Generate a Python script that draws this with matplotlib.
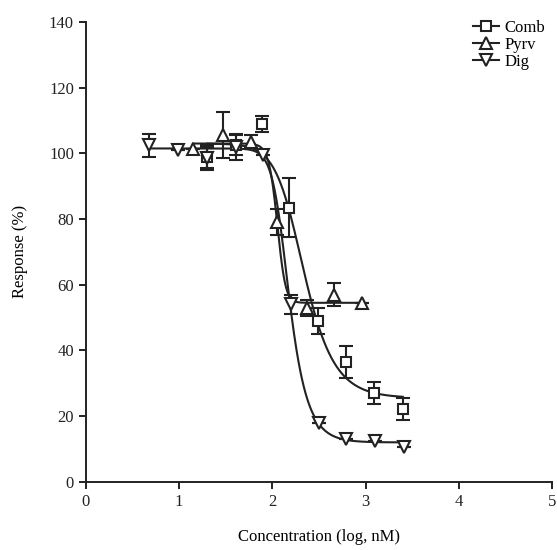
import numpy as np
import matplotlib.pyplot as plt

plt.rcParams['font.family'] = ['Liberation Serif', 'DejaVu Serif']

# measured points (log nM, % response, error)
comb_x = [1.30, 1.61, 1.89, 2.18, 2.49, 2.79, 3.09, 3.40]
comb_y = [99.0, 102.5, 109.0, 83.5, 49.0, 36.5, 27.0, 22.2]
comb_err = [3.5, 3.0, 2.5, 9.0, 4.0, 5.0, 3.3, 3.4]

pyrv_x = [1.15, 1.47, 1.77, 2.05, 2.37, 2.66, 2.96]
pyrv_y = [101.3, 105.5, 103.5, 79.0, 53.0, 57.0, 54.5]
pyrv_err = [0.0, 7.0, 2.0, 4.0, 2.5, 3.5, 0.0]

dig_x = [0.68, 0.99, 1.30, 1.61, 1.90, 2.20, 2.50, 2.79, 3.10, 3.41]
dig_y = [102.5, 101.0, 98.5, 102.0, 99.5, 54.0, 18.0, 13.0, 12.5, 10.5]
dig_err = [3.5, 0.0, 3.5, 4.0, 0.0, 3.0, 0.0, 0.0, 0.0, 0.0]

# fitted curve parameters: top, bottom, logEC50, hill, asymmetry
comb_fit = (103.0, 25.5, 2.236, 3.3, 0.6)
pyrv_fit = (103.0, 54.5, 2.07, 9.0, 1.3)
dig_fit = (101.5, 12.0, 2.10, 6.0, 0.5)


def fit_curve(xs, p):
    top, bottom, c, h, s = p
    return bottom + (top - bottom) / (1 + 10 ** (h * (xs - c))) ** s


fig, ax = plt.subplots(figsize=(5.57, 5.5), dpi=100)
fig.subplots_adjust(left=0.154, right=0.991, bottom=0.124, top=0.96)

series = [
    ('Comb', comb_x, comb_y, comb_err, comb_fit, 's', 7),
    ('Pyrv', pyrv_x, pyrv_y, pyrv_err, pyrv_fit, '^', 8),
    ('Dig', dig_x, dig_y, dig_err, dig_fit, 'v', 8),
]

handles = []
for name, xs, ys, err, fit, mk, ms in series:
    xf = np.linspace(min(xs), max(xs), 400)
    ax.plot(xf, fit_curve(xf, fit), color='#222222', lw=1.5, zorder=2)
    ax.errorbar(xs, ys, yerr=err, fmt='none', ecolor='#222222', elinewidth=1.5,
                capsize=5, capthick=1.5, zorder=3)
    ax.plot(xs, ys, linestyle='none', marker=mk, markersize=ms, mfc='white',
            mec='#222222', mew=1.5, zorder=4)
    h, = ax.plot([], [], color='#222222', lw=1.5, marker=mk, markersize=ms,
                 mfc='white', mec='#222222', mew=1.5, label=name)
    handles.append(h)

ax.set_xlim(0, 5)
ax.set_ylim(0, 140)
ax.set_xticks(range(0, 6))
ax.set_yticks(range(0, 141, 20))

for side in ['top', 'right']:
    ax.spines[side].set_visible(False)
for side in ['left', 'bottom']:
    ax.spines[side].set_linewidth(1.4)
    ax.spines[side].set_color('#222222')
ax.tick_params(direction='out', length=5, width=1.4, labelsize=12, colors='#222222')

ax.set_xlabel('Concentration (log, nM)', fontsize=12, labelpad=14)
ax.set_ylabel('Response (%)', fontsize=12, labelpad=15)

ax.legend(handles=handles, loc='upper right', bbox_to_anchor=(1.01, 1.03), frameon=False,
          fontsize=12, handlelength=1.6, handletextpad=0.3, labelspacing=0.05,
          borderpad=0.2)

plt.savefig('out.png', dpi=100)
